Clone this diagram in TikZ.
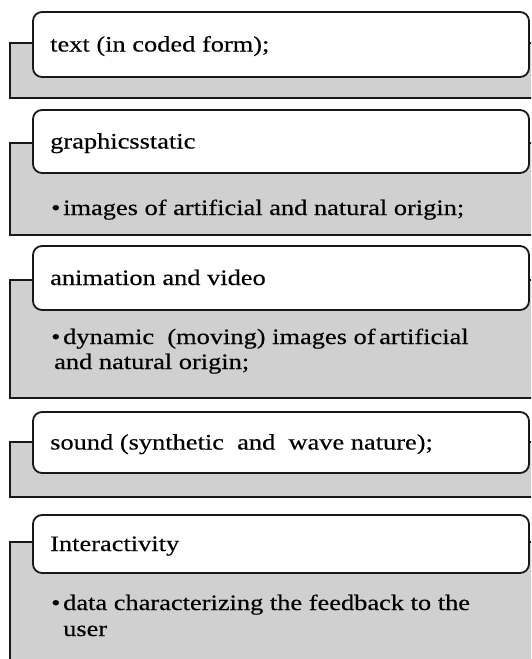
\documentclass[tikz,border=0pt]{standalone}
\usepackage{fontspec}
\setmainfont{Liberation Serif}[FakeStretch=1.2,FakeBold=0.3]
\definecolor{panelgray}{RGB}{208,208,208}
\definecolor{edge}{RGB}{25,25,25}
\begin{document}
\begin{tikzpicture}[x=1pt,y=-1pt]
\tikzset{
  panel/.style={draw=edge, line width=1.6pt, fill=panelgray},
  titlebox/.style={draw=edge, line width=1.8pt, fill=white, rounded corners=9pt},
  ttl/.style={anchor=base west, inner sep=0pt, font=\fontsize{22}{25}\selectfont},
  itm/.style={anchor=base west, inner sep=0pt, font=\fontsize{22}{25}\selectfont}
}
\useasboundingbox (0,0) rectangle (531,659);
\clip (0,0) rectangle (531,659);
% block 1
\draw[panel] (10,43) rectangle (545,98);
\draw[titlebox] (33,12) rectangle (529,77);
\node[ttl] (t1) at (50,51.5) {text (in coded form);};
% block 2
\draw[panel] (10,143) rectangle (545,235);
\draw[titlebox] (33,110) rectangle (529,173);
\node[ttl] (t2) at (50,148.5) {graphicsstatic};
\node[itm] (d2) at (51,215) {•};
\node[itm] (i2) at (63,215) {images of artificial and natural origin;};
% block 3
\draw[panel] (10,280) rectangle (545,398);
\draw[titlebox] (33,246) rectangle (529,310);
\node[ttl] (t3) at (50,285) {animation and video};
\node[itm] (d3) at (51,344) {•};
\node[itm] (i3) at (63,344) {dynamic \ (moving) images of\,artificial};
\node[itm] (i3b) at (54,369) {and natural origin;};
% block 4
\draw[panel] (10,442) rectangle (545,497);
\draw[titlebox] (33,412) rectangle (529,473);
\node[ttl] (t4) at (50,449.5) {sound (synthetic \ and \ wave nature);};
% block 5
\draw[panel] (10,542) rectangle (545,690);
\draw[titlebox] (33,515) rectangle (529,573);
\node[ttl] (t5) at (50,551) {Interactivity};
\node[itm] (d5) at (51,610) {•};
\node[itm] (i5) at (63,610) {data characterizing the feedback to the};
\node[itm] (i5b) at (63,636) {user};
\end{tikzpicture}
\end{document}
